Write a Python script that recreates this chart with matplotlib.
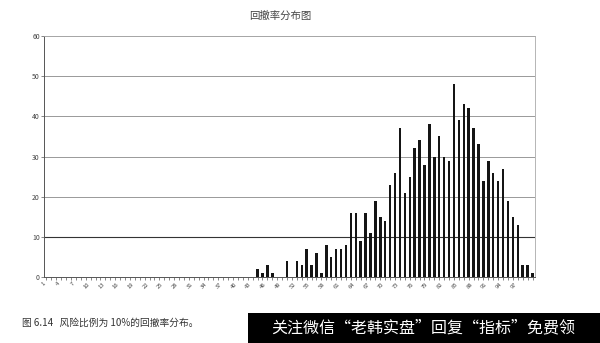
import numpy as np
import matplotlib
matplotlib.use('Agg')
import matplotlib.pyplot as plt
from matplotlib.patches import Rectangle

plt.rcParams['font.family'] = ['Noto Sans CJK SC', 'DejaVu Sans']

# drawdown buckets 1..100 and how many runs fell in each
buckets = list(range(1, 101))
counts = [
    0, 0, 0, 0, 0, 0, 0, 0, 0, 0,
    0, 0, 0, 0, 0, 0, 0, 0, 0, 0,
    0, 0, 0, 0, 0, 0, 0, 0, 0, 0,
    0, 0, 0, 0, 0, 0, 0, 0, 0, 0,
    0, 0, 0, 2, 1, 3, 1, 0, 0, 4,
    0, 4, 3, 7, 3, 6, 1, 8, 5, 7,
    7, 8, 16, 16, 9, 16, 11, 19, 15, 14,
    23, 26, 37, 21, 25, 32, 34, 28, 38, 30,
    35, 30, 29, 48, 39, 43, 42, 37, 33, 24,
    29, 26, 24, 27, 19, 15, 13, 3, 3, 1,
]
# excel only labels every third bucket, last one is 97
tick_labels = [str(b) for b in buckets[:97:3]]
yticks = [0, 10, 20, 30, 40, 50, 60]

title = '回撤率分布图'
caption = '图 6.14   风险比例为 10%的回撤率分布。'
watermark = '关注微信“老韩实盘”回复“指标”免费领'

fig = plt.figure(figsize=(6, 3.43), dpi=100)
ax = fig.add_axes([0.0733, 0.1924, 0.8183, 0.7026])

x = np.arange(len(buckets))
ax.bar(x, counts, width=0.5, color='#151515', zorder=3)

ax.set_xlim(-0.5, len(buckets) - 0.5)
ax.set_ylim(0, 60)
ax.set_yticks(yticks)
ax.set_yticklabels([str(v) for v in yticks], fontsize=5, color='#444')
ax.set_xticks(x[:97:3])
ax.set_xticklabels(tick_labels, rotation=45, ha='right', fontsize=4.2, color='#444')
ax.set_xticks(x, minor=True)
ax.tick_params(axis='x', which='both', length=2, width=0.5, color='#555', pad=1)
ax.tick_params(axis='y', length=2, width=0.5, color='#555', pad=1)

for v in yticks[1:]:
    ax.axhline(v, color='#333' if v == 10 else '#999', lw=0.8 if v == 10 else 0.7, zorder=1)

for side in ['top', 'right']:
    ax.spines[side].set_color('#aaa')
    ax.spines[side].set_linewidth(0.6)
for side in ['left', 'bottom']:
    ax.spines[side].set_color('#555')
    ax.spines[side].set_linewidth(0.7)

fig.text(0.467, 0.955, title, ha='center', va='center', fontsize=7.5, color='#444')
fig.text(0.037, 0.058, caption, ha='left', va='center', fontsize=7, color='#333')

fig.patches.append(Rectangle((0.413, 0), 0.587, 0.0875, transform=fig.transFigure,
                             facecolor='black', edgecolor='none'))
fig.text(0.706, 0.044, watermark, ha='center', va='center', fontsize=11.5, color='white')

fig.savefig('out.png', dpi=100)
